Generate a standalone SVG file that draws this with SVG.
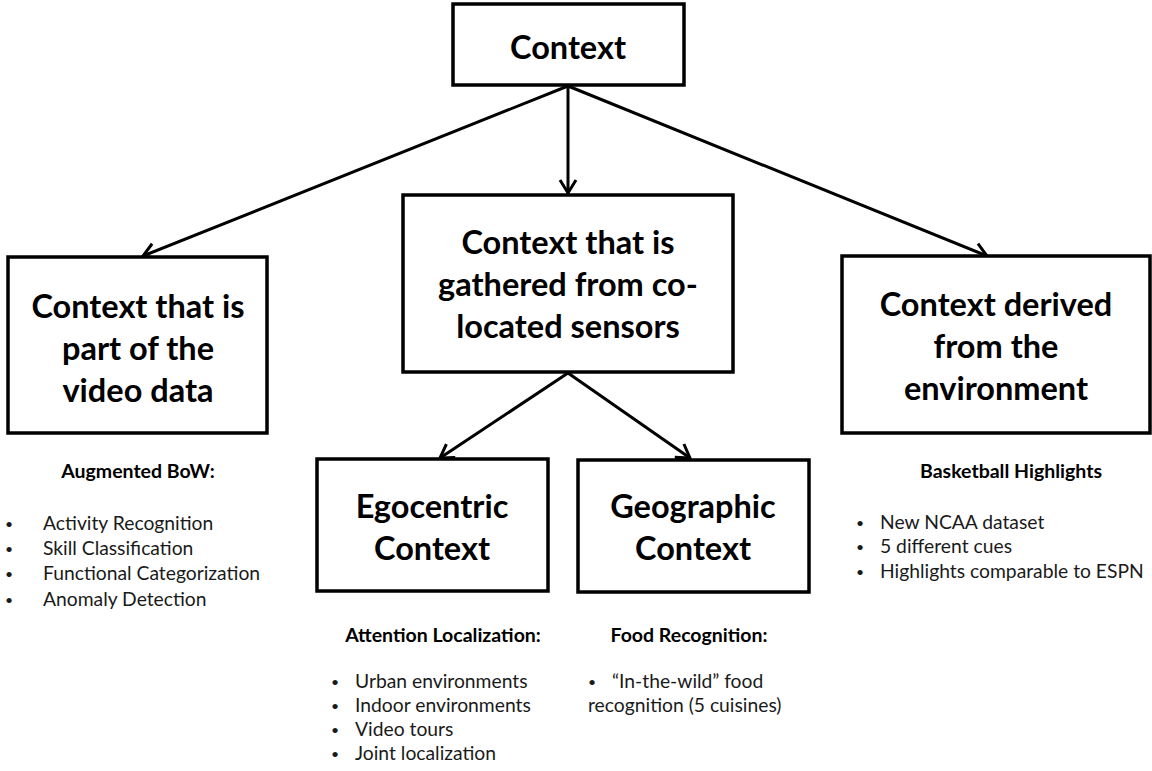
<svg xmlns="http://www.w3.org/2000/svg" width="1152" height="771" viewBox="0 0 1152 771">
<style>
.box{fill:#fff;stroke:#000;stroke-width:3.5}
.t{font-family:Lato,"Open Sans","Liberation Sans",sans-serif;font-weight:bold;font-size:32.5px;fill:#000;text-anchor:middle}
.h{font-family:Lato,"Open Sans","Liberation Sans",sans-serif;font-weight:bold;font-size:19.5px;fill:#000;text-anchor:middle}
.b{font-family:Lato,"Open Sans","Liberation Sans",sans-serif;font-size:19.3px;fill:#1a1a1a}
.d{font-family:Lato,"Open Sans","Liberation Sans",sans-serif;font-size:14px;fill:#1a1a1a}
.c{stroke:#000;stroke-width:3;fill:none}
</style>
<defs>
<marker id="arr" markerUnits="userSpaceOnUse" markerWidth="30" markerHeight="30" viewBox="-15 -15 30 30" refX="0" refY="0" orient="auto">
<path d="M-13,-8 L0,0 L-13,8" fill="none" stroke="#000" stroke-width="3"/>
</marker>
</defs>
<g id="connectors">
<line class="c" x1="568" y1="86" x2="143" y2="256" marker-end="url(#arr)"/>
<line class="c" x1="568" y1="86" x2="568" y2="193" marker-end="url(#arr)"/>
<line class="c" x1="568" y1="86" x2="987" y2="256" marker-end="url(#arr)"/>
<line class="c" x1="568" y1="373" x2="440" y2="458" marker-end="url(#arr)"/>
<line class="c" x1="568" y1="373" x2="690" y2="458" marker-end="url(#arr)"/>
</g>
<g id="context">
<rect class="box" x="453" y="4" width="231" height="81"/>
<text class="t" x="568" y="59">Context</text>
</g>
<g id="video">
<rect class="box" x="8" y="257" width="259" height="176"/>
<text class="t" x="138" y="318">Context that is</text>
<text class="t" x="138" y="360">part of the</text>
<text class="t" x="138" y="402">video data</text>
</g>
<g id="sensors">
<rect class="box" x="403" y="195" width="330" height="177"/>
<text class="t" x="568" y="254">Context that is</text>
<text class="t" x="568" y="296">gathered from co-</text>
<text class="t" x="568" y="338">located sensors</text>
</g>
<g id="environment">
<rect class="box" x="842" y="256" width="308" height="177"/>
<text class="t" x="996" y="316">Context derived</text>
<text class="t" x="996" y="358">from the</text>
<text class="t" x="996" y="400">environment</text>
</g>
<g id="egocentric">
<rect class="box" x="317" y="459" width="231" height="132"/>
<text class="t" x="432" y="518">Egocentric</text>
<text class="t" x="432" y="560">Context</text>
</g>
<g id="geographic">
<rect class="box" x="578" y="460" width="231" height="132"/>
<text class="t" x="693" y="518">Geographic</text>
<text class="t" x="693" y="560">Context</text>
</g>
<g id="notes-video">
<text class="h" x="138" y="478">Augmented BoW:</text>
<text class="d" x="5" y="529">•</text><text class="b" x="43" y="530">Activity Recognition</text>
<text class="d" x="5" y="554">•</text><text class="b" x="43" y="555">Skill Classification</text>
<text class="d" x="5" y="579">•</text><text class="b" x="43" y="580">Functional Categorization</text>
<text class="d" x="5" y="605">•</text><text class="b" x="43" y="606">Anomaly Detection</text>
</g>
<g id="notes-ego">
<text class="h" x="443" y="642">Attention Localization:</text>
<text class="d" x="331" y="687">•</text><text class="b" x="355" y="688">Urban environments</text>
<text class="d" x="331" y="711">•</text><text class="b" x="355" y="712">Indoor environments</text>
<text class="d" x="331" y="735">•</text><text class="b" x="355" y="736">Video tours</text>
<text class="d" x="331" y="759">•</text><text class="b" x="355" y="760">Joint localization</text>
</g>
<g id="notes-geo">
<text class="h" x="689" y="642">Food Recognition:</text>
<text class="d" x="588" y="687">•</text><text class="b" x="612" y="688">“In-the-wild” food</text>
<text class="b" x="588" y="712">recognition (5 cuisines)</text>
</g>
<g id="notes-env">
<text class="h" x="1011" y="478">Basketball Highlights</text>
<text class="d" x="856" y="528">•</text><text class="b" x="880" y="529">New NCAA dataset</text>
<text class="d" x="856" y="552">•</text><text class="b" x="880" y="553">5 different cues</text>
<text class="d" x="856" y="577">•</text><text class="b" x="880" y="578">Highlights comparable to ESPN</text>
</g>
</svg>
